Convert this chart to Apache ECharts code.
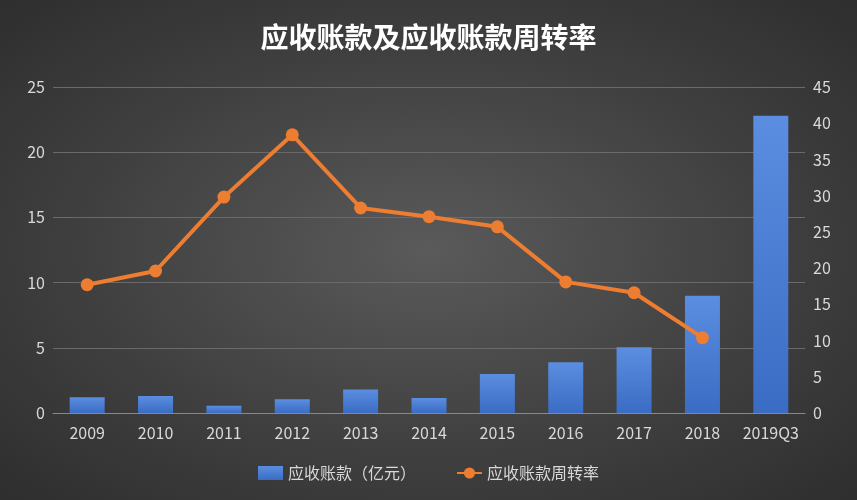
<!DOCTYPE html>
<html><head><meta charset="utf-8">
<script src="https://cdn.jsdelivr.net/npm/echarts@6/dist/echarts.min.js"></script>
<style>html,body{margin:0;padding:0;}#c{width:857px;height:500px;background:radial-gradient(ellipse at center,#5a5a5a 0%,#3e3e3e 60%,#2e2e2e 100%);}</style>
</head><body><div id="c"></div>
<script>
const categories=['2009','2010','2011','2012','2013','2014','2015','2016','2017','2018','2019Q3'];
const receivables=[1.2,1.3,0.55,1.05,1.8,1.15,3.0,3.9,5.05,9.0,22.8];
const turnover=[17.7,19.6,29.8,38.4,28.3,27.1,25.7,18.1,16.6,10.4,null];
const chart=echarts.init(document.getElementById('c'));
const lbl={color:'#d9d9d9',fontSize:16,fontFamily:'Noto Sans CJK SC'};
chart.setOption({
 backgroundColor:'transparent',
 title:{text:'应收账款及应收账款周转率',left:'center',top:18,textStyle:{color:'#fff',fontSize:28,fontWeight:'bold',fontFamily:'Noto Sans CJK SC'}},
 legend:{bottom:14,itemGap:40,textStyle:{color:'#d9d9d9',fontSize:16,fontFamily:'Noto Sans CJK SC'},
  data:[{name:'应收账款（亿元）',icon:'rect',itemWidth:40,itemHeight:8},{name:'应收账款周转率',itemWidth:40}]},
 grid:{left:53,right:52,top:87,bottom:87},
 xAxis:{type:'category',data:categories,axisLine:{lineStyle:{color:'#888'}},axisTick:{show:false},axisLabel:Object.assign({margin:12,interval:0},lbl)},
 yAxis:[{type:'value',min:0,max:25,interval:5,axisLabel:lbl,splitLine:{lineStyle:{color:'#6a6a6a'}}},
  {type:'value',min:0,max:45,interval:5,axisLabel:lbl,splitLine:{show:false}}],
 series:[{name:'应收账款（亿元）',type:'bar',data:receivables,barWidth:35,
   itemStyle:{color:new echarts.graphic.LinearGradient(0,0,0,1,[{offset:0,color:'#5b8ee0'},{offset:1,color:'#3a6cc4'}])}},
  {name:'应收账款周转率',type:'line',yAxisIndex:1,data:turnover,symbol:'circle',symbolSize:13,
   lineStyle:{color:'#ed7d31',width:4},itemStyle:{color:'#ed7d31'}}]
});
</script></body></html>
